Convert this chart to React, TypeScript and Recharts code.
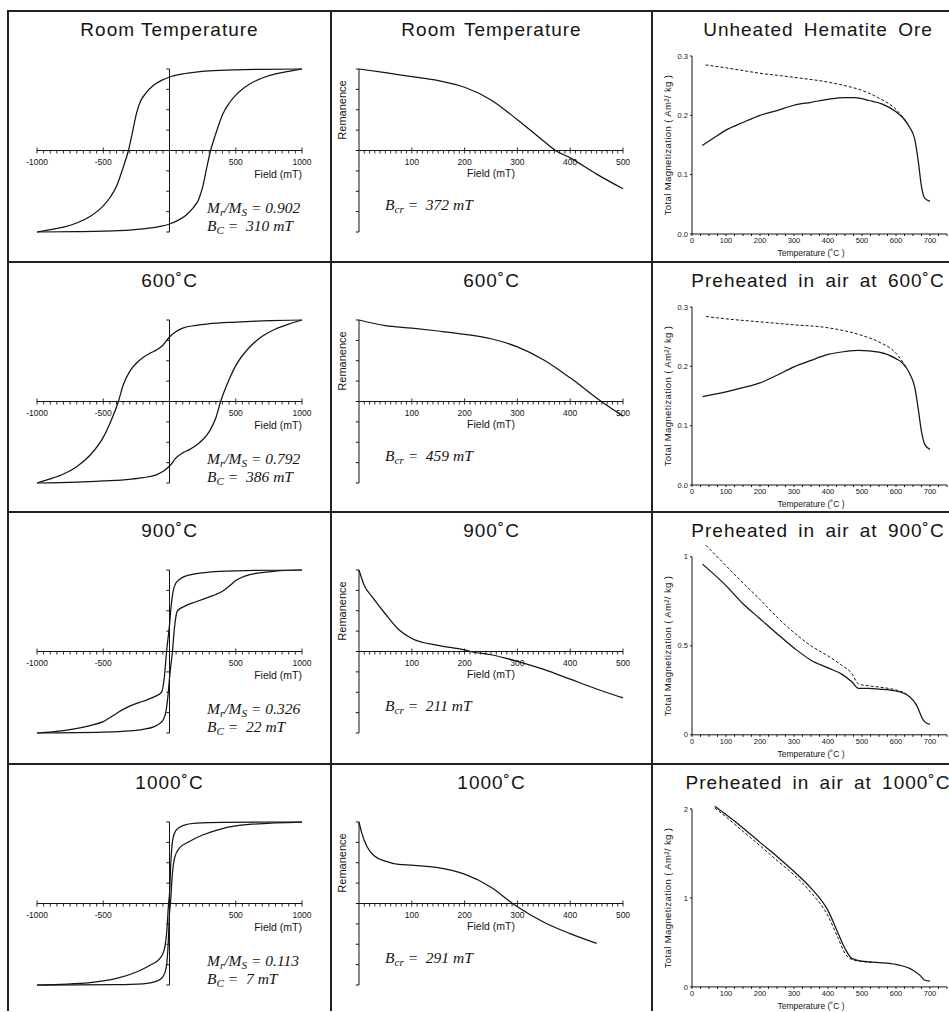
import React from "react";
import { LineChart, Line, XAxis, YAxis, ReferenceLine } from "recharts";

const SANS = '"Liberation Sans", Arial, Helvetica, sans-serif';
const SERIF = '"Liberation Serif", "Times New Roman", Times, serif';
const INK = "#141414";

// grid of the figure
const ROW_TOP = [11, 262, 512, 764];
const COL_LEFT = [8, 331, 652];

// titles and annotations
const LOOP_TITLES = ["Room Temperature", "600˚C", "900˚C", "1000˚C"];
const REM_TITLES = ["Room  Temperature", "600˚C", "900˚C", "1000˚C"];
const TEMP_TITLES = [
  "Unheated Hematite Ore",
  "Preheated in air at 600˚C",
  "Preheated in air at 900˚C",
  "Preheated in air at 1000˚C",
];
const MR_MS = ["0.902", "0.792", "0.326", "0.113"];
const BC = ["310", "386", "22", "7"];
const BCR = ["372", "459", "211", "291"];

// tick labels
const LOOP_TICKS = [-1000, -500, 500, 1000];
const REM_TICKS = [100, 200, 300, 400, 500];
const TEMP_TICKS = [0, 100, 200, 300, 400, 500, 600, 700];
const TEMP_Y_TICKS = [[0, 0.1, 0.2, 0.3], [0, 0.1, 0.2, 0.3], [0, 0.5, 1], [0, 1, 2]];
const TEMP_Y_LABELS = [["0.0", "0.1", "0.2", "0.3"], ["0.0", "0.1", "0.2", "0.3"], ["0", "0.5", "1"], ["0", "1", "2"]];
const TEMP_Y_MAX = [0.3, 0.3, 1.1, 2.1];

// hysteresis loops: field (mT), M/Ms
const roomUpper = [[-1000, -1], [-900, -0.97], [-800, -0.94], [-700, -0.89], [-600, -0.81], [-500, -0.68], [-450, -0.58], [-400, -0.44], [-350, -0.21], [-310, 0], [-280, 0.22], [-250, 0.45], [-220, 0.6], [-180, 0.7], [-120, 0.8], [-60, 0.86], [0, 0.902], [100, 0.94], [200, 0.962], [300, 0.976], [500, 0.99], [700, 0.996], [1000, 1]];
const roomLower = [[-1000, -1], [-700, -0.996], [-500, -0.99], [-300, -0.976], [-200, -0.962], [-100, -0.94], [0, -0.902], [60, -0.86], [120, -0.8], [180, -0.7], [220, -0.6], [250, -0.45], [280, -0.22], [310, 0], [350, 0.21], [400, 0.44], [450, 0.58], [500, 0.68], [600, 0.81], [700, 0.89], [800, 0.94], [900, 0.97], [1000, 1]];
const h600Upper = [[-1000, -1], [-900, -0.95], [-800, -0.89], [-700, -0.8], [-600, -0.66], [-500, -0.44], [-450, -0.27], [-386, 0], [-350, 0.2], [-300, 0.37], [-250, 0.47], [-200, 0.54], [-150, 0.59], [-100, 0.63], [-50, 0.69], [0, 0.792], [50, 0.86], [100, 0.9], [200, 0.935], [300, 0.955], [500, 0.975], [700, 0.99], [1000, 1]];
const h600Lower = [[-1000, -1], [-700, -0.99], [-500, -0.975], [-300, -0.955], [-200, -0.935], [-100, -0.9], [-50, -0.86], [0, -0.792], [50, -0.69], [100, -0.63], [150, -0.59], [200, -0.54], [250, -0.47], [300, -0.37], [350, -0.2], [386, 0], [450, 0.27], [500, 0.44], [600, 0.66], [700, 0.8], [800, 0.89], [900, 0.95], [1000, 1]];
const h900Upper = [[-1000, -1], [-800, -0.97], [-600, -0.91], [-500, -0.86], [-400, -0.76], [-350, -0.71], [-300, -0.67], [-200, -0.61], [-120, -0.56], [-60, -0.5], [-40, -0.33], [-22, 0], [0, 0.326], [12, 0.55], [25, 0.72], [45, 0.83], [80, 0.89], [120, 0.925], [200, 0.955], [300, 0.975], [500, 0.99], [1000, 1]];
const h900Lower = [[-1000, -1], [-500, -0.99], [-300, -0.975], [-200, -0.955], [-120, -0.925], [-80, -0.89], [-45, -0.83], [-25, -0.72], [-12, -0.55], [0, -0.326], [22, 0], [40, 0.33], [60, 0.5], [120, 0.56], [200, 0.61], [300, 0.67], [350, 0.7], [400, 0.74], [450, 0.8], [500, 0.87], [600, 0.94], [800, 0.985], [1000, 1]];
const h1000Upper = [[-1000, -1], [-600, -0.97], [-400, -0.92], [-250, -0.84], [-150, -0.76], [-75, -0.68], [-40, -0.57], [-20, -0.33], [-7, 0], [0, 0.113], [10, 0.5], [25, 0.79], [50, 0.9], [100, 0.955], [200, 0.985], [400, 0.996], [1000, 1]];
const h1000Lower = [[-1000, -1], [-400, -0.996], [-200, -0.985], [-100, -0.955], [-50, -0.9], [-25, -0.79], [-10, -0.5], [0, -0.113], [7, 0], [20, 0.33], [40, 0.57], [75, 0.68], [150, 0.76], [250, 0.84], [400, 0.92], [600, 0.97], [1000, 1]];

// back-field remanence: field (mT), normalised remanence
const remRoom = [[0, 1], [50, 0.955], [100, 0.906], [150, 0.858], [200, 0.776], [250, 0.62], [300, 0.378], [350, 0.114], [372, 0], [400, -0.09], [450, -0.29], [500, -0.47]];
const rem600 = [[0, 1], [50, 0.93], [100, 0.9], [150, 0.865], [200, 0.825], [250, 0.77], [300, 0.67], [350, 0.51], [400, 0.29], [459, 0], [500, -0.18]];
const rem900 = [[0, 1], [10, 0.81], [25, 0.67], [50, 0.46], [75, 0.27], [100, 0.16], [150, 0.075], [200, 0.02], [211, 0], [250, -0.04], [300, -0.12], [350, -0.22], [400, -0.34], [450, -0.46], [500, -0.57]];
const rem1000 = [[0, 1], [5, 0.87], [15, 0.7], [30, 0.58], [50, 0.52], [75, 0.48], [100, 0.47], [150, 0.44], [200, 0.36], [250, 0.2], [291, 0], [300, -0.04], [350, -0.23], [400, -0.37], [450, -0.49]];

// total magnetization vs temperature (˚C, Am²/kg): solid and dotted curves
const oreSolid = [[30, 0.149], [75, 0.166], [100, 0.175], [150, 0.188], [200, 0.2], [250, 0.208], [300, 0.217], [350, 0.222], [400, 0.227], [450, 0.23], [480, 0.23], [520, 0.225], [560, 0.219], [600, 0.206], [620, 0.196], [640, 0.18], [655, 0.16], [665, 0.125], [675, 0.08], [685, 0.06], [700, 0.055]];
const oreDotted = [[40, 0.285], [100, 0.28], [200, 0.271], [300, 0.264], [400, 0.256], [450, 0.25], [500, 0.242], [550, 0.229], [600, 0.21], [620, 0.197], [635, 0.186]];
const t600Solid = [[31, 0.149], [100, 0.157], [150, 0.164], [200, 0.172], [250, 0.185], [300, 0.199], [350, 0.21], [400, 0.22], [450, 0.225], [490, 0.227], [550, 0.224], [600, 0.213], [620, 0.205], [640, 0.188], [655, 0.165], [665, 0.13], [675, 0.09], [685, 0.068], [700, 0.06]];
const t600Dotted = [[41, 0.284], [100, 0.28], [200, 0.275], [300, 0.27], [400, 0.265], [500, 0.252], [550, 0.241], [600, 0.222], [620, 0.207], [632, 0.197]];
const t900Solid = [[31, 0.959], [100, 0.838], [150, 0.736], [200, 0.652], [250, 0.568], [300, 0.488], [350, 0.419], [400, 0.376], [440, 0.341], [470, 0.298], [490, 0.261], [520, 0.261], [550, 0.257], [600, 0.246], [640, 0.214], [660, 0.168], [680, 0.084], [690, 0.065], [700, 0.06]];
const t900Dotted = [[41, 1.065], [100, 0.95], [150, 0.853], [200, 0.76], [250, 0.661], [300, 0.574], [350, 0.5], [400, 0.443], [440, 0.391], [470, 0.345], [490, 0.285], [520, 0.275], [550, 0.268], [600, 0.252], [630, 0.232]];
const t1000Solid = [[67, 2.03], [100, 1.936], [150, 1.786], [200, 1.624], [250, 1.466], [300, 1.297], [350, 1.109], [400, 0.857], [430, 0.6], [450, 0.432], [470, 0.32], [500, 0.289], [550, 0.274], [600, 0.252], [650, 0.188], [670, 0.132], [685, 0.075], [700, 0.064]];
const t1000Dotted = [[67, 2.01], [100, 1.91], [150, 1.748], [200, 1.586], [250, 1.421], [300, 1.259], [350, 1.06], [400, 0.797], [430, 0.545], [450, 0.376], [470, 0.308], [500, 0.285], [550, 0.272]];

const LOOPS = [[roomUpper, roomLower], [h600Upper, h600Lower], [h900Upper, h900Lower], [h1000Upper, h1000Lower]];
const REMS = [remRoom, rem600, rem900, rem1000];
const TEMPS = [[oreSolid, oreDotted], [t600Solid, t600Dotted], [t900Solid, t900Dotted], [t1000Solid, t1000Dotted]];

const toPts = (a: number[][]) => a.map(([x, y]) => ({ x, y }));

const PAD = 12;
const PLOT_H = 163;

const tickLabel = (v: number) => ({
  value: String(v),
  position: "bottom" as const,
  offset: 5,
  fill: INK,
  fontSize: 8.5,
  fontFamily: SANS,
});

// axes crossing at the origin, built from reference segments
function crossTicks(xFrom: number, xTo: number, step: number, majors: number[], xLen: number, yLen: number) {
  const out: React.ReactNode[] = [];
  for (let v = xFrom; v <= xTo + 1e-9; v += step) {
    if (v === 0) continue;
    const major = majors.includes(v);
    out.push(
      <ReferenceLine
        key={"x" + v}
        segment={[{ x: v, y: major ? yLen : 0 }, { x: v, y: -yLen }]}
        stroke={INK}
        strokeWidth={0.9}
        ifOverflow="visible"
        label={major ? tickLabel(v) : undefined}
      />
    );
  }
  for (let i = 0; i <= 8; i++) {
    const v = -1 + i * 0.25;
    out.push(
      <ReferenceLine
        key={"y" + i}
        segment={[{ x: 0, y: v }, { x: -xLen, y: v }]}
        stroke={INK}
        strokeWidth={1}
        ifOverflow="visible"
      />
    );
  }
  return out;
}

const line = (data: number[][], key: string, dashed = false) => (
  <Line
    key={key}
    data={toPts(data)}
    dataKey="y"
    type="monotone"
    stroke={INK}
    strokeWidth={dashed ? 1 : 1.25}
    strokeDasharray={dashed ? "3 2" : undefined}
    dot={false}
    activeDot={false}
    isAnimationActive={false}
  />
);

function LoopPanel({ row }: { row: number }) {
  const top = ROW_TOP[row] + 58;
  const [upper, lower] = LOOPS[row];
  return (
    <div style={{ position: "absolute", left: 37 - PAD, top: top - PAD }}>
      <LineChart width={265 + 2 * PAD} height={PLOT_H + 2 * PAD} margin={{ top: PAD, right: PAD, bottom: PAD, left: PAD }}>
        <XAxis type="number" dataKey="x" domain={[-1000, 1000]} hide />
        <YAxis type="number" domain={[-1, 1]} hide />
        <ReferenceLine y={0} stroke={INK} strokeWidth={1} />
        <ReferenceLine segment={[{ x: 0, y: -1 }, { x: 0, y: 1 }]} stroke={INK} strokeWidth={1} />
        {crossTicks(-1000, 1000, 50, LOOP_TICKS, 24, 0.037)}
        {line(upper, "up")}
        {line(lower, "lo")}
      </LineChart>
    </div>
  );
}

function RemPanel({ row }: { row: number }) {
  const top = ROW_TOP[row] + 58;
  return (
    <div style={{ position: "absolute", left: 359 - PAD, top: top - PAD }}>
      <LineChart width={264 + 2 * PAD} height={PLOT_H + 2 * PAD} margin={{ top: PAD, right: PAD, bottom: PAD, left: PAD }}>
        <XAxis type="number" dataKey="x" domain={[0, 500]} hide />
        <YAxis type="number" domain={[-1, 1]} hide />
        <ReferenceLine y={0} stroke={INK} strokeWidth={1} />
        <ReferenceLine segment={[{ x: 0, y: -1 }, { x: 0, y: 1 }]} stroke={INK} strokeWidth={1} />
        {crossTicks(10, 500, 10, REM_TICKS, 6, 0.037)}
        {line(REMS[row], "rem")}
      </LineChart>
    </div>
  );
}

const TEMP_MINOR: number[] = [];
for (let t = 0; t <= 750; t += 25) TEMP_MINOR.push(t);

function TempPanel({ row }: { row: number }) {
  const ticks = TEMP_Y_TICKS[row];
  const yTop = ticks[ticks.length - 1];
  const yMax = TEMP_Y_MAX[row];
  const zeroY = ROW_TOP[row] + 223;
  const plotH = (yMax * 178) / yTop;
  const mt = 6;
  const xh = 14;
  const mb = 2;
  const [solid, dotted] = TEMPS[row];
  return (
    <div style={{ position: "absolute", left: 652, top: zeroY - plotH - mt }}>
      <LineChart width={297} height={mt + plotH + xh + mb} margin={{ top: mt, right: 2, bottom: mb, left: 18 }}>
        <XAxis
          type="number"
          dataKey="x"
          domain={[0, 750]}
          ticks={TEMP_MINOR}
          interval={0}
          tickFormatter={(v: number) => (TEMP_TICKS.includes(v) ? String(v) : "")}
          height={xh}
          tickSize={2}
          stroke={INK}
          tick={{ fontSize: 7.5, fill: INK, fontFamily: SANS }}
        />
        <YAxis
          type="number"
          domain={[0, yMax]}
          ticks={ticks}
          interval={0}
          tickFormatter={(v: number) => TEMP_Y_LABELS[row][ticks.indexOf(v)] ?? ""}
          width={22}
          tickSize={2}
          axisLine={false}
          stroke={INK}
          tick={{ fontSize: 7.5, fill: INK, fontFamily: SANS }}
        />
        <ReferenceLine segment={[{ x: 0, y: 0 }, { x: 0, y: yTop }]} stroke={INK} strokeWidth={1} />
        {line(dotted, "dot", true)}
        {line(solid, "sol")}
      </LineChart>
    </div>
  );
}

const abs = (x: number, y: number, extra: React.CSSProperties = {}): React.CSSProperties => ({
  position: "absolute",
  left: x,
  top: y,
  whiteSpace: "nowrap",
  color: INK,
  pointerEvents: "none",
  ...extra,
});

const sub = (s: string) => (
  <span style={{ fontSize: "0.72em", position: "relative", top: "0.28em" }}>{s}</span>
);

function Texts({ row }: { row: number }) {
  const rt = ROW_TOP[row];
  const pTop = rt + 58;
  const axisY = pTop + PLOT_H / 2;
  const zeroY = rt + 223;
  const title: React.CSSProperties = { fontFamily: SANS, fontSize: 19, letterSpacing: 1, transform: "translate(-50%, -50%)" };
  const ann: React.CSSProperties = { fontFamily: SERIF, fontStyle: "italic", fontSize: 15.5, transform: "translateY(-50%)" };
  return (
    <>
      <div style={abs(169.5, rt + 19, title)}>{LOOP_TITLES[row]}</div>
      <div style={abs(491.5, rt + 19, { ...title, wordSpacing: 2 })}>{REM_TITLES[row]}</div>
      <div style={abs(818, rt + 19, { ...title, wordSpacing: 4 })}>{TEMP_TITLES[row]}</div>

      <div style={abs(302, axisY + 23, { fontFamily: SANS, fontSize: 10.5, transform: "translate(-100%, -50%)" })}>Field (mT)</div>
      <div style={abs(491, axisY + 22, { fontFamily: SANS, fontSize: 10.5, transform: "translate(-50%, -50%)" })}>Field (mT)</div>
      <div style={abs(342, pTop + 41, { fontFamily: SANS, fontSize: 11, transform: "translate(-50%, -50%) rotate(-90deg)" })}>Remanence</div>

      <div style={abs(207, pTop + 139, ann)}>
        M{sub("r")}/M{sub("S")} = {MR_MS[row]}
      </div>
      <div style={abs(207, pTop + 157, ann)}>
        B{sub("C")} = &nbsp;{BC[row]} mT
      </div>
      <div style={abs(385, pTop + 136, ann)}>
        B{sub("cr")} = &nbsp;{BCR[row]} mT
      </div>

      <div style={abs(667, zeroY - 89, { fontFamily: SANS, fontSize: 9.5, letterSpacing: 0.4, transform: "translate(-50%, -50%) rotate(-90deg)" })}>
        Total Magnetization ( Am²/ kg )
      </div>
      <div style={abs(811, zeroY + 19, { fontFamily: SANS, fontSize: 8.5, transform: "translate(-50%, -50%)" })}>Temperature (˚C )</div>
    </>
  );
}

function Frame() {
  const c = "#222";
  const lines: React.ReactNode[] = [];
  ROW_TOP.forEach((y, i) =>
    lines.push(<div key={"h" + i} style={{ position: "absolute", left: COL_LEFT[0], top: y - 1, width: 949 - COL_LEFT[0], height: 2, background: c }} />)
  );
  COL_LEFT.forEach((x, i) =>
    lines.push(<div key={"v" + i} style={{ position: "absolute", left: x - 1, top: ROW_TOP[0] - 1, width: 2, height: 1012 - ROW_TOP[0], background: c }} />)
  );
  return <>{lines}</>;
}

export default function App() {
  const rows = [0, 1, 2, 3];
  return (
    <div style={{ position: "absolute", left: 0, top: 0, width: 949, height: 1012, background: "#fff", overflow: "hidden" }}>
      <Frame />
      {rows.map((r) => (
        <React.Fragment key={r}>
          <LoopPanel row={r} />
          <RemPanel row={r} />
          <TempPanel row={r} />
          <Texts row={r} />
        </React.Fragment>
      ))}
    </div>
  );
}
